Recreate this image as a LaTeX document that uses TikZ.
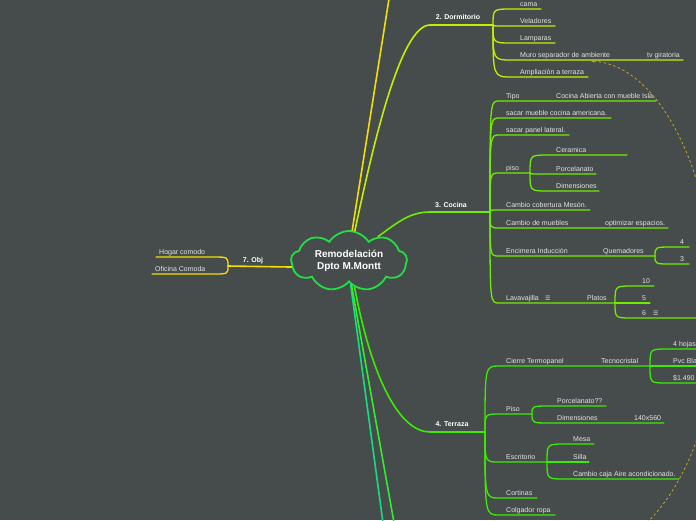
\documentclass[tikz,border=0pt]{standalone}
\usepackage{fontspec}
\setmainfont{Liberation Sans}
\newfontfamily\symfont{DejaVu Sans}
\usepackage{tikz}
\usetikzlibrary{shapes.symbols,arrows.meta}
\definecolor{bg}{HTML}{464B4B}
\definecolor{txt}{HTML}{E4E4E4}
\definecolor{cloudc}{HTML}{22E044}
\definecolor{objc}{HTML}{F4E000}
\definecolor{dorc}{HTML}{C4F000}
\definecolor{cocc}{HTML}{70EC00}
\definecolor{terc}{HTML}{3CEC00}
\definecolor{gA}{HTML}{10E080}
\definecolor{gB}{HTML}{2EEE2E}
\definecolor{relc}{HTML}{C0A830}
\tikzset{
  root/.style={cloud,cloud puffs=9,cloud puff arc=115,cloud ignores aspect,draw=cloudc,line width=1.8pt,fill=bg,
    minimum width=116pt,minimum height=60pt,inner sep=0pt,align=center,text=white,
    font=\bfseries\fontsize{10}{12}\selectfont},
  br/.style={line width=1.6pt,line cap=round},
  sub/.style={line width=1.3pt,line cap=round},
  lbl/.style={anchor=base west,inner sep=0pt,text=txt,font=\fontsize{7}{8}\selectfont},
  sec/.style={anchor=base,inner sep=0pt,text=white,font=\bfseries\fontsize{7}{8}\selectfont},
  ico/.style={anchor=base west,inner sep=0pt,text=txt,font=\symfont\fontsize{6}{7}\selectfont},
}

\begin{document}
\begin{tikzpicture}[x=1pt,y=-1pt]
  \fill[bg] (0,0) rectangle (696,520);
  \useasboundingbox (0,0) rectangle (696,520);
  \clip (0,0) rectangle (696,520);

  % central topic
  \node[root] (root) at (349,261) {Remodelación\\Dpto M.Montt};

  % 1. (off the top)
  \coordinate (s1) at (392,-20);
  \draw[br,objc] (root.84) -- (s1);

  % 2. Dormitorio
  \coordinate (dor-a) at (430,25);
  \coordinate (dor) at (493,25);
  \node[sec] (dor-l) at (458,19.5) {2. Dormitorio};
  \draw[br,dorc] (root.79) .. controls (372,150) and (400,25) .. (dor-a) -- (dor);
  \foreach \nm/\txt/\yy/\xe in {a/cama/9/541, b/Veladores/26/555, c/Lamparas/43/555,
      d/Muro separador de ambiente/60/683, e/Ampliación a terraza/77/588}{
    \coordinate (dor-\nm s) at (512,\yy);
    \coordinate (dor-\nm e) at (\xe,\yy);
    \node[lbl] (dor-\nm t) at (520,\yy-2.5) {\txt};
    \draw[sub,dorc] (dor) .. controls (dor |- dor-\nm s) .. (dor-\nm s) -- (dor-\nm e);
  }
  \node[lbl] (dor-tv) at (647,57.5) {tv giratoria};

  % 3. Cocina
  \coordinate (coc-a) at (430,212);
  \coordinate (coc) at (490,212);
  \node[sec] (coc-l) at (451,207.5) {3. Cocina};
  \draw[br,cocc] (root.40) .. controls (398,222) and (410,212) .. (coc-a) -- (coc);
  \foreach \nm/\txt/\yy/\xe in {a/Tipo/101/656, b/sacar mueble cocina americana./118/611,
      c/sacar panel lateral./135/569, d/piso/173/530, e/Cambio cobertura Mesón./210/590,
      f/Cambio de muebles/228/668, g/Encimera Inducción/256/655, h/Lavavajilla/303/615}{
    \coordinate (coc-\nm s) at (499,\yy);
    \coordinate (coc-\nm e) at (\xe,\yy);
    \node[lbl] (coc-\nm t) at (506,\yy-2.5) {\txt};
    \draw[sub,cocc] (coc) .. controls (coc |- coc-\nm s) .. (coc-\nm s) -- (coc-\nm e);
  }
  \node[lbl] (coc-tipo) at (556,98.5) {Cocina Abierta con mueble Isla.};
  \node[lbl] (coc-opt) at (605,225.5) {optimizar espacios.};
  \node[lbl] (coc-que) at (603,253.5) {Quemadores};
  \node[lbl] (coc-pla) at (587,300.5) {Platos};
  \node[ico] (coc-hm) at (545,300.5) {☰};
  % piso
  \foreach \nm/\txt/\yy/\xe in {a/Ceramica/155/627, b/Porcelanato/174/596, c/Dimensiones/191/599}{
    \coordinate (pis-\nm s) at (548,\yy);
    \coordinate (pis-\nm e) at (\xe,\yy);
    \node[lbl] (pis-\nm t) at (556,\yy-2.5) {\txt};
    \draw[sub,cocc] (coc-de) .. controls (coc-de |- pis-\nm s) .. (pis-\nm s) -- (pis-\nm e);
  }
  % quemadores
  \foreach \nm/\txt/\yy in {a/4/247, b/3/264}{
    \coordinate (que-\nm s) at (672,\yy);
    \coordinate (que-\nm e) at (689,\yy);
    \node[lbl] (que-\nm t) at (680,\yy-2.5) {\txt};
    \draw[sub,cocc] (coc-ge) .. controls (coc-ge |- que-\nm s) .. (que-\nm s) -- (que-\nm e);
  }
  % platos
  \foreach \nm/\txt/\yy/\xe in {a/10/286/654, b/5/303/650, c/6/318/710}{
    \coordinate (pla-\nm s) at (632,\yy);
    \coordinate (pla-\nm e) at (\xe,\yy);
    \node[lbl] (pla-\nm t) at (642,\yy-2.5) {\txt};
    \draw[sub,cocc] (coc-he) .. controls (coc-he |- pla-\nm s) .. (pla-\nm s) -- (pla-\nm e);
  }
  \node[ico] (pla-hm) at (653,315.5) {☰};

  % 4. Terraza
  \coordinate (ter-a) at (430,432);
  \coordinate (ter) at (485,432);
  \node[sec] (ter-l) at (452,426.5) {4. Terraza};
  \draw[br,terc] (root.-78) .. controls (372,380) and (400,432) .. (ter-a) -- (ter);
  \foreach \nm/\txt/\yy/\xe in {a/Cierre Termopanel/366/650, b/Piso/414/532,
      c/Escritorio/462/547, d/Cortinas/498/537, e/Colgador ropa/515/555}{
    \coordinate (ter-\nm s) at (499,\yy);
    \coordinate (ter-\nm e) at (\xe,\yy);
    \node[lbl] (ter-\nm t) at (506,\yy-2.5) {\txt};
    \draw[sub,terc] (ter) .. controls (ter |- ter-\nm s) .. (ter-\nm s) -- (ter-\nm e);
  }
  \node[lbl] (ter-tec) at (601,363.5) {Tecnocristal};
  % tecnocristal
  \foreach \nm/\txt/\yy in {a/4 hojas/349, b/Pvc Bla/366, c/\$1.490/383}{
    \coordinate (tec-\nm s) at (667,\yy);
    \coordinate (tec-\nm e) at (710,\yy);
    \node[lbl] (tec-\nm t) at (673,\yy-2.5) {\txt};
    \draw[sub,terc] (ter-ae) .. controls (ter-ae |- tec-\nm s) .. (tec-\nm s) -- (tec-\nm e);
  }
  % piso
  \foreach \nm/\txt/\yy/\xe in {a/Porcelanato??/406/606, b/Dimensiones/423/664}{
    \coordinate (tps-\nm s) at (550,\yy);
    \coordinate (tps-\nm e) at (\xe,\yy);
    \node[lbl] (tps-\nm t) at (557,\yy-2.5) {\txt};
    \draw[sub,terc] (ter-be) .. controls (ter-be |- tps-\nm s) .. (tps-\nm s) -- (tps-\nm e);
  }
  \node[lbl] (tps-dim) at (634,420.5) {140x560};
  % escritorio
  \foreach \nm/\txt/\yy/\xe in {a/Mesa/444/594, b/Silla/462/589, c/Cambio caja Aire acondicionado./479/679}{
    \coordinate (esc-\nm s) at (565,\yy);
    \coordinate (esc-\nm e) at (\xe,\yy);
    \node[lbl] (esc-\nm t) at (573,\yy-2.5) {\txt};
    \draw[sub,terc] (ter-ce) .. controls (ter-ce |- esc-\nm s) .. (esc-\nm s) -- (esc-\nm e);
  }

  % 5. and 6. (off the bottom)
  \coordinate (s5) at (386,545);
  \coordinate (s6) at (398,545);
  \draw[br,gA] (root.-86) -- (s5);
  \draw[br,gB] (root.-84) -- (s6);

  % 7. Obj
  \coordinate (obj) at (228,266);
  \node[sec] (obj-l) at (253,262.5) {7. Obj};
  \draw[br,objc] (root.186) -- (obj);
  \foreach \nm/\txt/\yy/\xs in {a/Hogar comodo/257/156, b/Oficina Comoda/274/152}{
    \coordinate (obj-\nm s) at (213,\yy);
    \coordinate (obj-\nm e) at (\xs,\yy);
    \node[lbl] (obj-\nm t) at (\xs+3,\yy-2.5) {\txt};
    \draw[sub,objc] (obj) .. controls (obj |- obj-\nm s) .. (obj-\nm s) -- (obj-\nm e);
  }

  % relation
  \coordinate (rel-a) at (591,61);
  \coordinate (rel-b) at (620,545);
  \draw[relc,line width=0.8pt,dash pattern=on 2.5pt off 2.5pt,{Latex[length=3pt,width=3pt]}-]
    (rel-a) .. controls (720,70) and (780,440) .. (rel-b);
\end{tikzpicture}
\end{document}
